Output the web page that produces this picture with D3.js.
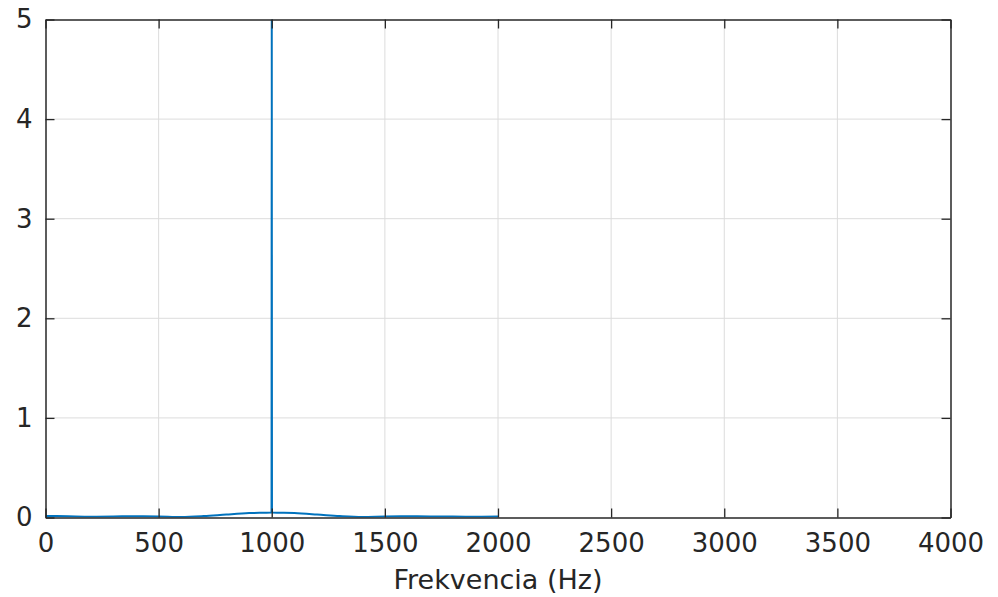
<!DOCTYPE html>
<html>
<head>
<meta charset="utf-8">
<script src="https://cdn.jsdelivr.net/npm/d3@7"></script>
<style>
  html, body { margin: 0; padding: 0; background: #fff; }
  svg { display: block; }
  text { font-family: "DejaVu Sans", sans-serif; fill: #262626; }
</style>
</head>
<body>
<svg id="chart" width="998" height="597"></svg>
<script>
// ---- data ----
const freqHz = [0, 100, 200, 300, 400, 500, 600, 700, 800, 900, 999, 1000, 1001, 1100, 1200, 1300, 1400, 1500, 1600, 1700, 1800, 1900, 2000];
const amplitude = [0.016, 0.012, 0.008, 0.010, 0.013, 0.011, 0.005, 0.014, 0.030, 0.044, 0.050, 5.0, 0.050, 0.044, 0.030, 0.014, 0.005, 0.010, 0.012, 0.011, 0.009, 0.008, 0.010];
const xTicks = [0, 500, 1000, 1500, 2000, 2500, 3000, 3500, 4000];
const yTicks = [0, 1, 2, 3, 4, 5];
const xLabel = "Frekvencia (Hz)";

// ---- layout ----
const svg = d3.select("#chart");
const L = 45.5, R = 950.5, T = 19.5, B = 517.5;
const x = d3.scaleLinear().domain([0, 4000]).range([L, R]);
const y = d3.scaleLinear().domain([0, 5]).range([B, T]);
const axisColor = "#262626";
const tickLen = 9;

// grid
svg.append("g").selectAll("line.gx").data(xTicks.slice(1, -1)).join("line")
  .attr("x1", d => x(d)).attr("x2", d => x(d)).attr("y1", T).attr("y2", B)
  .attr("stroke", "#dcdcdc").attr("stroke-width", 1);
svg.append("g").selectAll("line.gy").data(yTicks.slice(1, -1)).join("line")
  .attr("y1", d => y(d)).attr("y2", d => y(d)).attr("x1", L).attr("x2", R)
  .attr("stroke", "#dcdcdc").attr("stroke-width", 1);

// clip
svg.append("clipPath").attr("id", "clip").append("rect")
  .attr("x", L).attr("y", T).attr("width", R - L).attr("height", B - T);

// data line
const pts = freqHz.map((f, i) => [f, amplitude[i]]);
svg.append("path").datum(pts)
  .attr("clip-path", "url(#clip)")
  .attr("fill", "none").attr("stroke", "#0072BD").attr("stroke-width", 2)
  .attr("stroke-linejoin", "round")
  .attr("d", d3.line().x(d => x(d[0])).y(d => y(d[1])).curve(d3.curveMonotoneX));

// axes with inward ticks (bottom/left labelled, top/right unlabeled)
const fmt = d3.format("d");
const gB = svg.append("g").attr("transform", `translate(0,${B})`)
  .call(d3.axisBottom(x).tickValues(xTicks).tickFormat(fmt).tickSizeInner(-tickLen).tickSizeOuter(0).tickPadding(16));
const gT = svg.append("g").attr("transform", `translate(0,${T})`)
  .call(d3.axisTop(x).tickValues(xTicks).tickFormat("").tickSizeInner(-tickLen).tickSizeOuter(0));
const gL = svg.append("g").attr("transform", `translate(${L},0)`)
  .call(d3.axisLeft(y).tickValues(yTicks).tickFormat(fmt).tickSizeInner(-tickLen).tickSizeOuter(0).tickPadding(13));
const gR = svg.append("g").attr("transform", `translate(${R},0)`)
  .call(d3.axisRight(y).tickValues(yTicks).tickFormat("").tickSizeInner(-tickLen).tickSizeOuter(0));

[gB, gT, gL, gR].forEach(g => {
  g.selectAll(".domain").attr("stroke", axisColor).attr("stroke-width", 1.5);
  g.selectAll(".tick line").attr("stroke", axisColor).attr("stroke-width", 1.3);
  g.selectAll(".tick text").attr("fill", axisColor)
    .style("font-family", '"DejaVu Sans", sans-serif').style("font-size", "26px");
});
gB.selectAll(".tick text").attr("dy", "0.71em");

// x label
svg.append("text").attr("x", (L + R) / 2).attr("y", 589)
  .attr("text-anchor", "middle").style("font-size", "27px").text(xLabel);
</script>
</body>
</html>
